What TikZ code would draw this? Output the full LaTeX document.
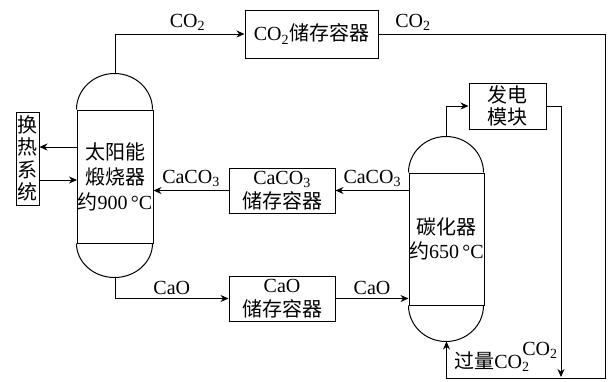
\documentclass[tikz,border=0pt]{standalone}
\usepackage{fontspec}
\setmainfont{Liberation Serif}
\newfontfamily\cjk{Noto Sans CJK SC}
\usetikzlibrary{arrows.meta,calc,positioning}
\newcommand{\zh}[1]{{\cjk #1}}
\newcommand{\chem}[2]{#1\textsubscript{#2}}

\begin{document}
\begin{tikzpicture}[x=1pt,y=-1pt,line width=1pt,
    every node/.style={font=\fontsize{20}{24}\selectfont},
    box/.style={draw, inner sep=0pt, align=center},
    vessel/.style={draw, inner sep=0pt, align=center},
    flow/.style={-{Stealth[length=8pt,width=7pt]}}]
        \useasboundingbox (0,0) rectangle (615,381);
        % Vessels (straight part)
        \node[vessel, minimum width=76pt, minimum height=133pt,
              font=\fontsize{20}{25}\selectfont] (cal) at (115,176.5)
              {\zh{太阳能}\\\zh{煅烧器}\\\zh{约}900\,°C};
        \node[vessel, minimum width=75pt, minimum height=132pt] (car) at (446.5,239)
              {\zh{碳化器}\\\zh{约}650\,°C};
        % Domes
        \draw (cal.north west) arc[start angle=180, end angle=0, x radius=38pt, y radius=36pt];
        \draw (cal.south west) arc[start angle=180, end angle=360, x radius=38pt, y radius=34pt];
        \draw (car.north west) arc[start angle=180, end angle=0, x radius=37.5pt, y radius=36pt];
        \draw (car.south west) arc[start angle=180, end angle=360, x radius=37.5pt, y radius=36pt];
        \coordinate (caltop) at ($(cal.north)+(0,-36)$);
        \coordinate (calbot) at ($(cal.south)+(0,34)$);
        \coordinate (cartop) at ($(car.north)+(0,-36)$);
        \coordinate (carbot) at ($(car.south)+(0,36)$);
        % Storage boxes
        \node[box, minimum width=133pt, minimum height=48pt] (co2box) at (311.5,34)
              {\chem{CO}{2}\zh{储存容器}};
        \node[box, minimum width=106pt, minimum height=45pt] (caco3box) at (282,190.5)
              {\chem{CaCO}{3}\\\zh{储存容器}};
        \node[box, minimum width=106pt, minimum height=45pt] (caobox) at (282,298.5)
              {CaO\\\zh{储存容器}};
        \node[box, minimum width=77pt, minimum height=46pt,
              font=\cjk\fontsize{20}{22}\selectfont] (power) at (507.5,106) {发电\\模块};
        \node[box, minimum width=23pt, minimum height=93pt,
              font=\cjk\fontsize{20}{22.5}\selectfont] (heat) at (27.5,158.5) {换\\热\\系\\统};
        % CO2 lines
        \draw[flow] (caltop) |- (co2box.west) node[pos=0.78, above] {\chem{CO}{2}};
        \coordinate (loopse) at (605,378);
        \draw[flow] (co2box.east) -| (loopse) -| (carbot);
        \node at (413,22) {\chem{CO}{2}};
        \node at (492,362) {\zh{过量}\chem{CO}{2}};
        % Power module
        \coordinate (pwrend) at (561,377);
        \draw[flow] (cartop) |- (power.west);
        \draw[flow] (power.east) -| (pwrend);
        \node at (540,350) {\chem{CO}{2}};
        % Heat exchange
        \coordinate (hout) at (77,147);
        \coordinate (hin) at (77,180);
        \draw[flow] (hout) -- (hout -| heat.east);
        \draw[flow] (hin -| heat.east) -- (hin);
        % CaCO3 loop
        \coordinate (cc) at (409,190.5);
        \draw[flow] (cc) -- (caco3box.east) node[midway, above] {\chem{CaCO}{3}};
        \draw[flow] (caco3box.west) -- (caco3box.west -| cal.east) node[midway, above] {\chem{CaCO}{3}};
        % CaO loop
        \draw[flow] (calbot) |- (caobox.west) node[pos=0.75, above] {CaO};
        \draw[flow] (caobox.east) -- (caobox.east -| car.west) node[midway, above] {CaO};
      \end{tikzpicture}
\end{document}
